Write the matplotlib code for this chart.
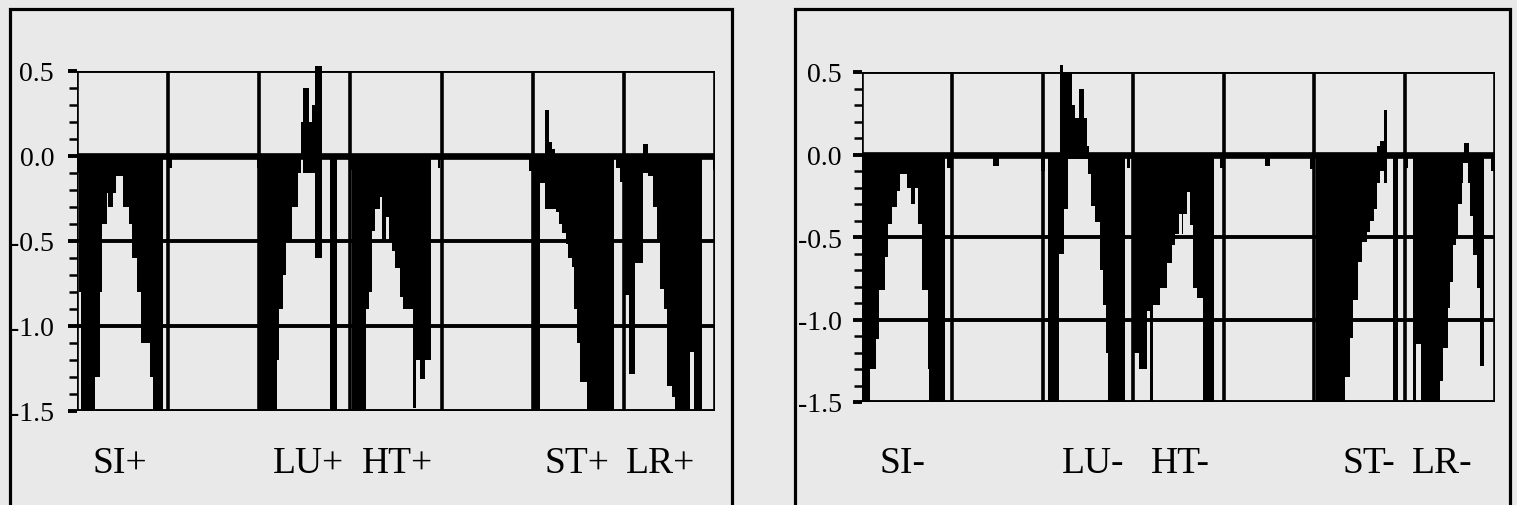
import numpy as np
import matplotlib
matplotlib.use('Agg')
import matplotlib.pyplot as plt
from matplotlib.patches import Rectangle
from matplotlib.transforms import blended_transform_factory
from matplotlib.ticker import MultipleLocator

plt.rcParams['font.family'] = ['Liberation Serif', 'DejaVu Serif']
plt.rcParams['axes.unicode_minus'] = False

# Step data: start of each step (x, grid every 10) and its value.
# A value of 0 marks an empty stretch.
left_neg_x = [0.0, 0.2, 0.4, 2.0, 2.5, 2.75, 3.25, 3.4, 3.95, 4.25, 5.05, 5.7, 6.05, 6.55, 7.0, 8.0, 8.35, 9.4, 10.1, 10.4,
              19.75, 20.0, 21.9, 22.2, 22.6, 22.95, 23.55, 24.3, 24.6, 24.8, 26.15, 26.9, 27.75, 28.5,
              30.0, 30.2, 31.7, 32.0, 32.35, 32.7, 33.2, 33.45, 33.9, 34.2, 34.55, 34.9, 35.4, 35.8, 36.9, 37.2, 37.65, 38.2, 38.8, 39.6, 39.85,
              49.55, 49.9, 50.8, 51.4, 52.5, 52.85, 53.2, 53.6, 53.9, 54.3, 54.55, 54.85, 55.2, 55.95, 58.9, 59.1, 59.6, 59.95,
              60.15, 60.6, 61.25, 62.15, 62.6, 63.25, 63.6, 64.0, 64.35, 64.7, 65.3, 65.65, 67.3, 67.65, 68.55, 69.75, 69.95]
left_neg_v = [-0.1, -0.8, -1.5, -1.3, -0.8, -0.4, -0.22, -0.3, -0.22, -0.12, -0.3, -0.4, -0.6, -0.8, -1.1, -1.3, -1.5, 0, -0.07, 0,
              -0.07, -1.5, -1.2, -0.9, -0.7, -0.5, -0.3, -0.1, 0, -0.1, -0.6, 0, -1.5, 0,
              -0.08, -1.5, -0.9, -0.8, -0.44, -0.31, -0.24, -0.5, -0.36, -0.5, -0.56, -0.66, -0.83, -0.9, -1.48, -1.2, -1.31, -1.2, 0, -0.07, 0,
              -0.09, -1.5, -0.16, -0.31, -0.33, -0.4, -0.45, -0.52, -0.6, -0.65, -0.9, -1.1, -1.33, -1.5, 0, -0.07, -0.15, 0,
              -0.82, -1.28, -0.63, -0.1, -0.12, -0.3, -0.5, -0.78, -0.9, -1.35, -1.42, -1.5, -1.15, -1.5, 0, -0.08, 0]
left_pos_x = [24.6, 24.8, 25.45, 25.8, 26.15, 26.9, 51.4, 51.75, 52.1, 52.5, 62.15, 62.6]
left_pos_v = [0.2, 0.4, 0.2, 0.3, 0.53, 0, 0.27, 0.08, 0.04, 0, 0.07, 0]

right_neg_x = [0.0, 0.9, 1.55, 1.9, 2.55, 2.9, 3.3, 3.85, 4.2, 5.0, 5.45, 5.85, 6.15, 6.6, 7.3, 7.45, 9.2, 9.4, 9.85, 14.5, 15.1,
               19.8, 20.2, 20.6, 21.75, 22.3, 22.8, 25.0, 25.3, 25.8, 26.3, 26.7, 27.0, 27.25, 29.1, 29.35, 29.6,
               30.1, 30.6, 31.5, 31.9, 32.2, 33.0, 33.7, 34.25, 34.6, 35.0, 35.35, 35.5, 35.9, 36.3, 36.65, 37.1, 37.75, 38.9, 39.6, 39.9, 44.6, 45.1,
               49.5, 49.9, 50.2, 53.4, 54.0, 54.35, 54.9, 55.3, 55.8, 56.2, 56.6, 56.9, 57.3, 57.7, 58.1, 58.75, 59.3,
               60.1, 60.4, 60.95, 61.3, 61.8, 63.9, 64.3, 64.8, 65.0, 65.4, 65.7, 65.9, 66.3, 66.5, 67.0, 67.2, 67.6, 68.0, 68.3, 68.8, 69.6, 69.85]
right_neg_v = [-1.5, -1.3, -1.12, -0.82, -0.62, -0.42, -0.32, -0.22, -0.12, -0.2, -0.3, -0.2, -0.42, -0.82, -1.3, -1.5, 0, -0.08, 0, -0.07, 0,
               -0.1, 0, -1.5, -0.6, -0.33, -0.03, -0.12, -0.31, -0.41, -0.7, -0.91, -1.2, -1.5, 0, -0.08, 0,
               -1.2, -1.3, -0.95, -1.5, -0.91, -0.81, -0.66, -0.55, -0.48, -0.36, -0.48, -0.36, -0.23, -0.43, -0.81, -0.87, -1.5, 0, -0.08, 0, -0.07, 0,
               -0.09, 0, -1.5, -1.35, -1.11, -0.88, -0.65, -0.53, -0.47, -0.4, -0.33, -0.17, -0.1, -0.17, 0, -1.5, 0,
               -0.08, 0, -1.5, -1.15, -1.5, -1.37, -1.17, -0.93, -0.77, -0.55, -0.49, -0.3, -0.17, -0.05, -0.17, -0.37, -0.61, -0.81, -1.28, 0, -0.1, 0]
right_pos_x = [21.95, 22.25, 23.2, 23.6, 23.95, 24.5, 24.85, 25.05, 56.9, 57.3, 57.67, 58.1, 66.6, 67.1]
right_pos_v = [0.54, 0.5, 0.3, 0.22, 0.4, 0.22, 0.05, 0, 0.05, 0.08, 0.27, 0, 0.07, 0]

left_labels = ['SI+', 'LU+', 'HT+', 'ST+', 'LR+']
left_label_x = [4.7, 25.4, 35.2, 54.9, 64.0]
right_labels = ['SI-', 'LU-', 'HT-', 'ST-', 'LR-']
right_label_x = [4.5, 25.6, 35.2, 56.1, 64.2]

BG = '#e9e9e9'
fig = plt.figure(figsize=(15.17, 5.06), dpi=100)
fig.patch.set_facecolor(BG)

# outer frames round each panel (they run past the bottom edge)
for x0, x1 in [(10, 732), (795, 1510)]:
    fig.add_artist(Rectangle((x0 / 1517, -0.1), (x1 - x0) / 1517, 1.1 - 10 / 506,
                             transform=fig.transFigure, fill=False, ec='black', lw=2.3))

panels = [
    ([77 / 1517, (506 - 412) / 506, 638 / 1517, 340 / 506],
     left_neg_x, left_neg_v, left_pos_x, left_pos_v, left_labels, left_label_x, 10),
    ([862 / 1517, (506 - 403) / 506, 633 / 1517, 330 / 506],
     right_neg_x, right_neg_v, right_pos_x, right_pos_v, right_labels, right_label_x, 8),
]

for rect, nx, nv, px, pv, labels, lx, pad in panels:
    ax = fig.add_axes(rect)
    ax.set_facecolor(BG)
    for xs, vs in [(nx, nv), (px, pv)]:
        xs = np.asarray(xs, float)
        w = np.diff(np.append(xs, 70.0))
        ax.bar(xs, vs, width=w, align='edge', color='black', linewidth=0, zorder=3, clip_on=False)
    ax.set_xlim(0, 70)
    ax.set_ylim(-1.5, 0.5)
    for s in ax.spines.values():
        s.set_visible(False)
    for gx in range(0, 71, 10):
        ax.axvline(gx, color='black', lw=2.6, zorder=4)
    for gy in [-1.5, -1.0, -0.5, 0.5]:
        ax.axhline(gy, color='black', lw=2.8, zorder=4)
    ax.axhline(0, color='black', lw=4.8, zorder=4)
    ax.set_xticks([])
    ax.set_yticks([-1.5, -1.0, -0.5, 0.0, 0.5])
    ax.set_yticklabels(['%.1f' % t for t in [-1.5, -1.0, -0.5, 0.0, 0.5]])
    ax.yaxis.set_minor_locator(MultipleLocator(0.1))
    ax.tick_params(axis='y', which='major', length=6.5, width=2.8, direction='out', pad=pad, labelsize=20)
    ax.tick_params(axis='y', which='minor', length=6, width=1.8, direction='out')
    tr = blended_transform_factory(ax.transData, fig.transFigure)
    for name, x in zip(labels, lx):
        ax.text(x, (506 - 473) / 506, name, transform=tr, ha='center', va='baseline', fontsize=27)

fig.savefig('out.png', dpi=100, facecolor=BG)
